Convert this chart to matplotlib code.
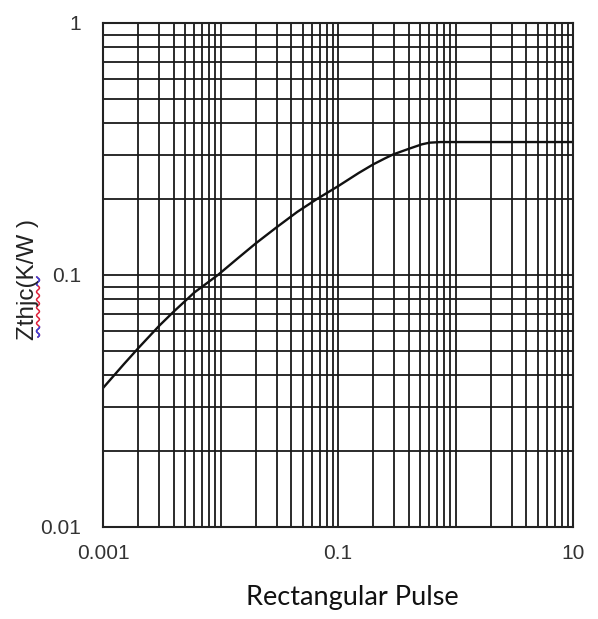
import matplotlib
matplotlib.use("Agg")
import matplotlib.pyplot as plt
import numpy as np
from matplotlib.ticker import LogLocator, FixedLocator, NullFormatter, FixedFormatter

# data
pulse = [0.001, 0.0015, 0.002, 0.003, 0.004, 0.006, 0.0095, 0.014, 0.02, 0.03, 0.045,
         0.0659, 0.1, 0.15, 0.2, 0.25, 0.295, 0.41, 0.517, 0.6, 0.75, 1.0, 10.0]
zth = [0.0356, 0.0442, 0.0513, 0.0628, 0.0716, 0.0853, 0.100, 0.1164, 0.1336, 0.1546, 0.178,
       0.200, 0.225, 0.254, 0.275, 0.290, 0.301, 0.318, 0.330, 0.335, 0.337, 0.337, 0.337]
xticks = [0.001, 0.1, 10]
xticklabels = ["0.001", "0.1", "10"]
yticks = [0.01, 0.1, 1]
yticklabels = ["0.01", "0.1", "1"]

plt.rcParams["font.family"] = ["Liberation Sans", "DejaVu Sans"]

fig = plt.figure(figsize=(5.98, 6.19), dpi=100)
ax = fig.add_axes([103/598, 1-527/619, 470/598, 504/619])
ax.set_xscale("log")
ax.set_yscale("log")
ax.set_xlim(0.001, 10)
ax.set_ylim(0.01, 1)

ax.plot(pulse, zth, color="#111111", lw=1.7, solid_capstyle="round", solid_joinstyle="round")

ax.xaxis.set_major_locator(FixedLocator(xticks))
ax.xaxis.set_major_formatter(FixedFormatter(xticklabels))
ax.yaxis.set_major_locator(FixedLocator(yticks))
ax.yaxis.set_major_formatter(FixedFormatter(yticklabels))
ax.xaxis.set_minor_locator(LogLocator(base=10, subs=np.arange(1, 10), numticks=20))
ax.yaxis.set_minor_locator(LogLocator(base=10, subs=np.arange(1, 10), numticks=20))
ax.xaxis.set_minor_formatter(NullFormatter())
ax.yaxis.set_minor_formatter(NullFormatter())
ax.grid(True, which="both", color="#1a1a1a", lw=1.3)
ax.tick_params(which="both", length=0)
ax.tick_params(axis="x", pad=12, labelsize=15, labelcolor="#333333")
ax.tick_params(axis="y", pad=16, labelsize=15, labelcolor="#333333")
for s in ax.spines.values():
    s.set_color("#222222")
    s.set_linewidth(1.5)

fig.text(352/598, 1-597/619, "Rectangular Pulse", ha="center", va="center",
         fontsize=19.5, family="Lato", color="#111111")

fig.text(28/598, 1-279/619, "Zthjc(K/W )", rotation=90, ha="center", va="center",
         fontsize=17.5, family="Liberation Sans", color="#222222")
# spell-check squiggle under "Zthjc"
yy = np.linspace(1-337/619, 1-277/619, 80)
xx = 38/598 + 0.0025*np.sin(np.linspace(0, 48, 80))
fig.add_artist(plt.Line2D(xx, yy, color="#e0203a", lw=1.1, transform=fig.transFigure))
fig.add_artist(plt.Line2D(xx[:14], yy[:14], color="#3040e0", lw=1.1, transform=fig.transFigure))
fig.add_artist(plt.Line2D(xx[-12:], yy[-12:], color="#3040e0", lw=1.1, transform=fig.transFigure))

fig.savefig("out.png", dpi=100)
